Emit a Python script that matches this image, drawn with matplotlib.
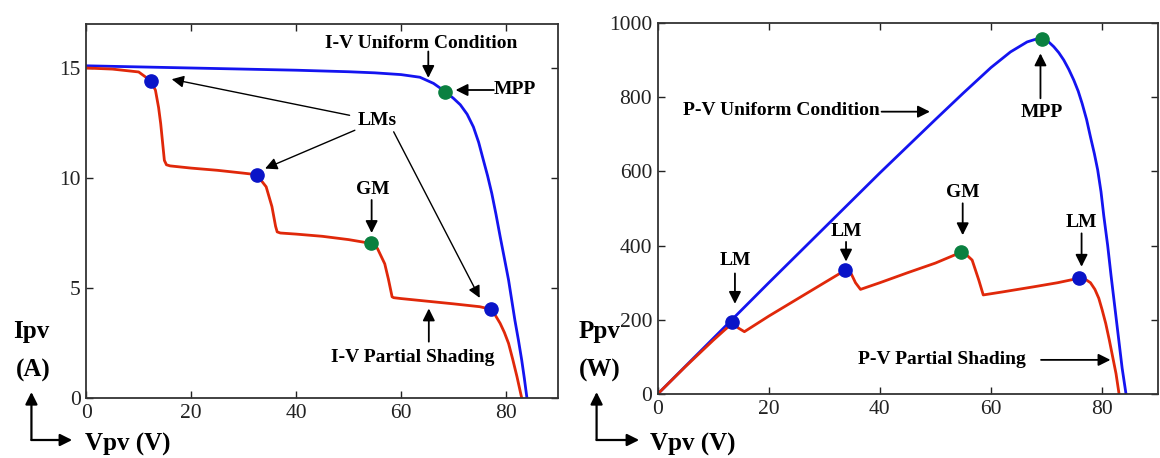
import numpy as np
import matplotlib
matplotlib.use('Agg')
import matplotlib.pyplot as plt

plt.rcParams['font.family'] = ['Liberation Serif', 'DejaVu Serif']

# I-V curve, uniform irradiance
iv_uni_v = [0, 10, 20, 30, 40, 50, 55, 60, 63.6, 66.2, 68.4, 70, 71.3, 72.6, 73.8,
            74.8, 75.7, 76.5, 77.3, 78.1, 78.9, 79.7, 80.5, 81.1, 81.7, 82.4, 83.0,
            83.5, 84.0]
iv_uni_i = [15.1, 15.05, 15.0, 14.95, 14.9, 14.83, 14.78, 14.7, 14.58, 14.3, 13.93,
            13.62, 13.33, 12.9, 12.32, 11.62, 10.81, 10.1, 9.3, 8.35, 7.33, 6.35, 5.36,
            4.45, 3.54, 2.6, 1.73, 0.9, 0]

# I-V curve, partial shading
iv_ps_v = [0, 5, 10, 12.3, 13.2, 13.8, 14.2, 14.9, 15.3, 16, 20, 25, 30, 32.5, 34.3,
           35.4, 36.1, 36.4, 37, 40, 45, 50, 54.2, 55.5, 56.9, 57.6, 58.3, 58.6, 60,
           65, 70, 75, 77.2, 78.0, 78.9, 79.7, 80.5, 81.3, 82.1, 83.0]
iv_ps_i = [15.0, 14.95, 14.82, 14.42, 13.99, 13.2, 12.47, 10.8, 10.6, 10.55, 10.45,
           10.35, 10.22, 10.15, 9.6, 8.7, 7.8, 7.55, 7.5, 7.45, 7.35, 7.2, 7.03, 6.8,
           6.1, 5.4, 4.6, 4.56, 4.52, 4.4, 4.28, 4.15, 4.03, 3.75, 3.39, 2.98, 2.48,
           1.75, 0.97, 0]

# P-V curve, uniform irradiance
pv_uni_v = [0, 10, 20, 30, 40, 50, 55, 60, 63.5, 66.5, 68, 69.2, 70.3, 71.3, 72.2,
            73.1, 74.0, 74.9, 75.7, 76.4, 77.2, 77.9, 78.6, 79.2, 79.8, 80.3, 81.0,
            81.6, 82.2, 82.8, 83.6, 84.3]
pv_uni_p = [0, 150, 300, 448, 596, 740, 811, 880, 922, 949, 956, 958, 950, 936, 920,
            900, 875, 846, 816, 783, 740, 693, 648, 604, 545, 480, 400, 320, 245, 170,
            70, 0]

# P-V curve, partial shading
pv_ps_v = [0, 5, 10, 12, 13, 13.8, 14.5, 15.6, 20, 25, 30, 33.8, 34.8, 35.6, 36.5,
           40, 45, 50, 54.6, 55.6, 56.6, 57.8, 58.6, 62, 67.7, 72, 75.8, 76.8, 77.9,
           78.7, 79.4, 80.0, 80.65, 81.3, 81.9, 82.5, 83.05]
pv_ps_p = [0, 74, 145, 172, 185, 188, 178, 168, 210, 255, 300, 334, 325, 300, 282,
           300, 327, 353, 382, 375, 361, 307, 267, 275, 289, 300, 312, 311, 300, 282,
           258, 227, 190, 145, 100, 55, 0]

# marked points
iv_lm_v = [12.3, 32.5, 77.2]
iv_lm_i = [14.42, 10.15, 4.03]
iv_gm = (54.2, 7.03)
iv_mpp = (68.4, 13.93)

pv_lm_v = [13.3, 33.8, 75.8]
pv_lm_p = [195, 334, 312]
pv_gm = (54.6, 382)
pv_mpp = (69.2, 958)

BLUE = '#1414F0'
RED = '#E0280A'
DOT_BLUE = '#0A14C8'
DOT_GREEN = '#0A8040'

fig = plt.figure(figsize=(11.6, 4.58), dpi=100)
ax1 = fig.add_axes([0.0743, 0.131, 0.4071, 0.8166])
ax2 = fig.add_axes([0.567, 0.1397, 0.431, 0.8101])

arrow = dict(arrowstyle='-|>', color='k', lw=1.3, mutation_scale=18, shrinkA=0, shrinkB=0)
thin = dict(arrowstyle='-|>', color='k', lw=1.0, mutation_scale=18, shrinkA=0, shrinkB=0)
lab = dict(fontsize=14, fontweight='bold', ha='center', va='center')

for ax in (ax1, ax2):
    ax.set_xlim(0, 90)
    ax.set_xticks([0, 20, 40, 60, 80])
    ax.tick_params(direction='in', top=True, right=True, length=5, width=1,
                   labelsize=15.5, colors='#222222', pad=4)
    for s in ax.spines.values():
        s.set_linewidth(1.3)
        s.set_color('#333333')

# ---- I-V panel ----
ax1.set_ylim(0, 17)
ax1.set_yticks([0, 5, 10, 15])
ax1.plot(iv_uni_v, iv_uni_i, color=BLUE, lw=2)
ax1.plot(iv_ps_v, iv_ps_i, color=RED, lw=2)
ax1.plot(iv_lm_v, iv_lm_i, 'o', color=DOT_BLUE, ms=9.5, zorder=5)
ax1.plot(*iv_gm, 'o', color=DOT_GREEN, ms=9.5, zorder=5)
ax1.plot(*iv_mpp, 'o', color=DOT_GREEN, ms=9.5, zorder=5)

ax1.text(63.9, 16.1, 'I-V Uniform Condition', **lab)
ax1.annotate('', xy=(65.2, 14.55), xytext=(65.2, 15.75), arrowprops=arrow)
ax1.text(81.6, 14.0, 'MPP', **lab)
ax1.annotate('', xy=(70.4, 14.0), xytext=(77.7, 14.0), arrowprops=arrow)
ax1.text(55.5, 12.62, 'LMs', **lab)
ax1.annotate('', xy=(16.3, 14.49), xytext=(50.2, 12.85), arrowprops=thin)
ax1.annotate('', xy=(34.1, 10.43), xytext=(51.2, 12.17), arrowprops=thin)
ax1.annotate('', xy=(75.0, 4.55), xytext=(58.6, 12.1), arrowprops=thin)
ax1.text(54.6, 9.48, 'GM', **lab)
ax1.annotate('', xy=(54.4, 7.5), xytext=(54.4, 9.0), arrowprops=arrow)
ax1.text(62.2, 1.85, 'I-V Partial Shading', **lab)
ax1.annotate('', xy=(65.3, 4.07), xytext=(65.3, 2.56), arrowprops=arrow)

# ---- P-V panel ----
ax2.set_ylim(0, 1000)
ax2.set_yticks([0, 200, 400, 600, 800, 1000])
ax2.plot(pv_uni_v, pv_uni_p, color=BLUE, lw=2)
ax2.plot(pv_ps_v, pv_ps_p, color=RED, lw=2)
ax2.plot(pv_lm_v, pv_lm_p, 'o', color=DOT_BLUE, ms=9.5, zorder=5)
ax2.plot(*pv_gm, 'o', color=DOT_GREEN, ms=9.5, zorder=5)
ax2.plot(*pv_mpp, 'o', color=DOT_GREEN, ms=9.5, zorder=5)

ax2.text(22.2, 765, 'P-V Uniform Condition', **lab)
ax2.annotate('', xy=(49.0, 761), xytext=(40.3, 761), arrowprops=arrow)
ax2.text(69.2, 760, 'MPP', **lab)
ax2.annotate('', xy=(68.9, 918), xytext=(68.9, 797), arrowprops=arrow)
ax2.text(55.0, 542, 'GM', **lab)
ax2.annotate('', xy=(54.9, 428), xytext=(54.9, 514), arrowprops=arrow)
ax2.text(14.0, 361, 'LM', **lab)
ax2.annotate('', xy=(13.9, 243), xytext=(13.9, 325), arrowprops=arrow)
ax2.text(33.9, 437, 'LM', **lab)
ax2.annotate('', xy=(33.9, 357), xytext=(33.9, 410), arrowprops=arrow)
ax2.text(76.3, 462, 'LM', **lab)
ax2.annotate('', xy=(76.3, 343), xytext=(76.3, 433), arrowprops=arrow)
ax2.text(51.2, 93.5, 'P-V Partial Shading', **lab)
ax2.annotate('', xy=(81.5, 92), xytext=(69.0, 92), arrowprops=arrow)

# ---- axis labels with corner arrows ----
axlab = dict(fontsize=18, fontweight='bold', ha='center', va='center')
fig.text(0.0271, 0.2758, 'Ipv', **axlab)
fig.text(0.0287, 0.192, '(A)', **axlab)
fig.text(0.1103, 0.0306, 'Vpv (V)', **axlab)
fig.text(0.517, 0.2758, 'Ppv', **axlab)
fig.text(0.517, 0.192, '(W)', **axlab)
fig.text(0.597, 0.0306, 'Vpv (V)', **axlab)

corner = dict(arrowstyle='-|>', color='k', lw=1.6, mutation_scale=18, shrinkA=0, shrinkB=0)
for x0, xtip in ((0.0271, 0.0622), (0.5143, 0.551)):
    fig.add_artist(matplotlib.patches.FancyArrowPatch(
        (x0, 0.0393), (x0, 0.144), transform=fig.transFigure, **corner))
    fig.add_artist(matplotlib.patches.FancyArrowPatch(
        (x0, 0.0393), (xtip, 0.0393), transform=fig.transFigure, **corner))

fig.savefig('out.png', dpi=100)
